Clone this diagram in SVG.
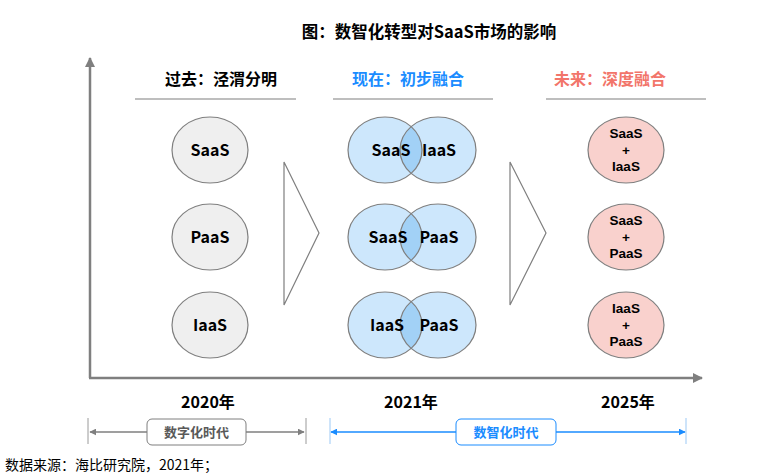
<svg xmlns="http://www.w3.org/2000/svg" width="761" height="475" viewBox="0 0 761 475">
<style>
text{font-family:"Microsoft YaHei","Noto Sans CJK SC","Noto Sans",sans-serif;}
.b{font-weight:bold;}
.lbl{font-size:16px;font-weight:bold;fill:#000;text-anchor:middle;}
.sm{font-family:"Liberation Sans",Arial,sans-serif;font-size:13.5px;font-weight:bold;fill:#000;text-anchor:middle;}
.hd{font-size:16px;font-weight:bold;text-anchor:middle;}
.gray{fill:#EFEFEF;stroke:#7F7F7F;stroke-width:1.2;}
.blue{fill:#CDE7FC;stroke:none;}
.ov{fill:#A2D1F6;}
.ring{fill:none;stroke:#7F7F7F;stroke-width:1.2;}
.pink{fill:#F9D1CD;stroke:#7F7F7F;stroke-width:1.2;}
.ax{stroke:#7F7F7F;stroke-width:2.5;fill:none;}
.hl{stroke:#7F7F7F;stroke-width:1.2;}
.chev{fill:#fff;stroke:#7F7F7F;stroke-width:1.2;}
</style>
<defs>
<marker id="axh" viewBox="0 0 10 10" refX="9" refY="5" markerWidth="4" markerHeight="4" orient="auto"><path d="M0,0L10,5L0,10z" fill="#7F7F7F"/></marker>
<marker id="gh" viewBox="0 0 10 10" refX="9" refY="5" markerWidth="7" markerHeight="7" markerUnits="userSpaceOnUse" orient="auto-start-reverse"><path d="M0,0L10,5L0,10z" fill="#7F7F7F"/></marker>
<marker id="bh" viewBox="0 0 10 10" refX="9" refY="5" markerWidth="7" markerHeight="7" markerUnits="userSpaceOnUse" orient="auto-start-reverse"><path d="M0,0L10,5L0,10z" fill="#1A8CFF"/></marker>
<clipPath id="c1"><ellipse cx="438" cy="150" rx="38" ry="33"/></clipPath>
<clipPath id="c2"><ellipse cx="438" cy="237" rx="38" ry="33"/></clipPath>
<clipPath id="c3"><ellipse cx="438" cy="325" rx="38" ry="33"/></clipPath>
</defs>

<text id="title" x="429" y="38" class="b" font-size="16.5" text-anchor="middle" fill="#000">图：数智化转型对SaaS市场的影响</text>

<g id="axes">
<path class="ax" d="M90,378V58" marker-end="url(#axh)"/>
<path class="ax" d="M89,378H702" marker-end="url(#axh)"/>
</g>

<g id="headers">
<text x="221" y="85" class="hd" fill="#000">过去：泾渭分明</text>
<line class="hl" x1="135" y1="99" x2="296" y2="99"/>
<text x="408" y="85" class="hd" fill="#1A8CFF">现在：初步融合</text>
<line class="hl" x1="333" y1="99" x2="493" y2="99"/>
<text x="610" y="85" class="hd" fill="#F2756A">未来：深度融合</text>
<line class="hl" x1="546" y1="99" x2="706" y2="99"/>
</g>

<g id="past-saas"><ellipse class="gray" cx="210" cy="150" rx="38" ry="33"/><text class="lbl" x="210" y="156">SaaS</text></g>
<g id="past-paas"><ellipse class="gray" cx="210" cy="237" rx="38" ry="33"/><text class="lbl" x="210" y="243">PaaS</text></g>
<g id="past-iaas"><ellipse class="gray" cx="210" cy="325" rx="38" ry="33"/><text class="lbl" x="210" y="331">IaaS</text></g>

<g id="chevrons">
<path class="chev" d="M284,162L319,233L284,305z"/>
<path class="chev" d="M510,162L546,233L510,305z"/>
</g>

<g id="now-saas-iaas">
<ellipse class="blue" cx="385" cy="150" rx="37" ry="33"/><ellipse class="blue" cx="438" cy="150" rx="38" ry="33"/>
<ellipse class="ov" cx="385" cy="150" rx="37" ry="33" clip-path="url(#c1)"/>
<ellipse class="ring" cx="385" cy="150" rx="37" ry="33"/><ellipse class="ring" cx="438" cy="150" rx="38" ry="33"/>
<text class="lbl" x="391" y="156">SaaS</text><text class="lbl" x="439" y="156">IaaS</text>
</g>
<g id="now-saas-paas">
<ellipse class="blue" cx="385" cy="237" rx="37" ry="33"/><ellipse class="blue" cx="438" cy="237" rx="38" ry="33"/>
<ellipse class="ov" cx="385" cy="237" rx="37" ry="33" clip-path="url(#c2)"/>
<ellipse class="ring" cx="385" cy="237" rx="37" ry="33"/><ellipse class="ring" cx="438" cy="237" rx="38" ry="33"/>
<text class="lbl" x="388" y="243">SaaS</text><text class="lbl" x="439" y="243">PaaS</text>
</g>
<g id="now-iaas-paas">
<ellipse class="blue" cx="385" cy="325" rx="37" ry="33"/><ellipse class="blue" cx="438" cy="325" rx="38" ry="33"/>
<ellipse class="ov" cx="385" cy="325" rx="37" ry="33" clip-path="url(#c3)"/>
<ellipse class="ring" cx="385" cy="325" rx="37" ry="33"/><ellipse class="ring" cx="438" cy="325" rx="38" ry="33"/>
<text class="lbl" x="387" y="331">IaaS</text><text class="lbl" x="439" y="331">PaaS</text>
</g>

<g id="future-saas-iaas"><ellipse class="pink" cx="626" cy="150" rx="38" ry="33"/>
<text class="sm" x="626" y="138">SaaS</text><text class="sm" x="626" y="155">+</text><text class="sm" x="626" y="171">IaaS</text></g>
<g id="future-saas-paas"><ellipse class="pink" cx="626" cy="237" rx="38" ry="33"/>
<text class="sm" x="626" y="225">SaaS</text><text class="sm" x="626" y="242">+</text><text class="sm" x="626" y="258">PaaS</text></g>
<g id="future-iaas-paas"><ellipse class="pink" cx="626" cy="325" rx="38" ry="33"/>
<text class="sm" x="626" y="313">IaaS</text><text class="sm" x="626" y="330">+</text><text class="sm" x="626" y="346">PaaS</text></g>

<g id="years">
<text class="lbl" x="208" y="408">2020年</text>
<text class="lbl" x="411" y="408">2021年</text>
<text class="lbl" x="628" y="408">2025年</text>
</g>

<g id="era-digital">
<line x1="88" y1="418" x2="88" y2="444" stroke="#9A9A9A" stroke-width="1"/>
<line x1="306" y1="418" x2="306" y2="444" stroke="#9A9A9A" stroke-width="1"/>
<line x1="90" y1="432" x2="304" y2="432" stroke="#7F7F7F" stroke-width="1.5" marker-start="url(#gh)" marker-end="url(#gh)"/>
<rect x="147" y="419" width="99" height="26" rx="5" fill="#fff" stroke="#7F7F7F" stroke-width="1"/>
<text x="196.5" y="437" class="b" font-size="13" text-anchor="middle" fill="#595959">数字化时代</text>
</g>
<g id="era-intelligent">
<line x1="330" y1="418" x2="330" y2="444" stroke="#9CC9F5" stroke-width="1"/>
<line x1="686" y1="418" x2="686" y2="444" stroke="#9CC9F5" stroke-width="1"/>
<line x1="331" y1="432" x2="685" y2="432" stroke="#1A8CFF" stroke-width="1.5" marker-start="url(#bh)" marker-end="url(#bh)"/>
<rect x="456" y="419" width="100" height="26" rx="5" fill="#fff" stroke="#1A8CFF" stroke-width="1"/>
<text x="506" y="437" class="b" font-size="13" text-anchor="middle" fill="#1A8CFF">数智化时代</text>
</g>

<text id="source" x="5" y="470" font-size="14" fill="#000">数据来源：海比研究院，2021年；</text>
</svg>
